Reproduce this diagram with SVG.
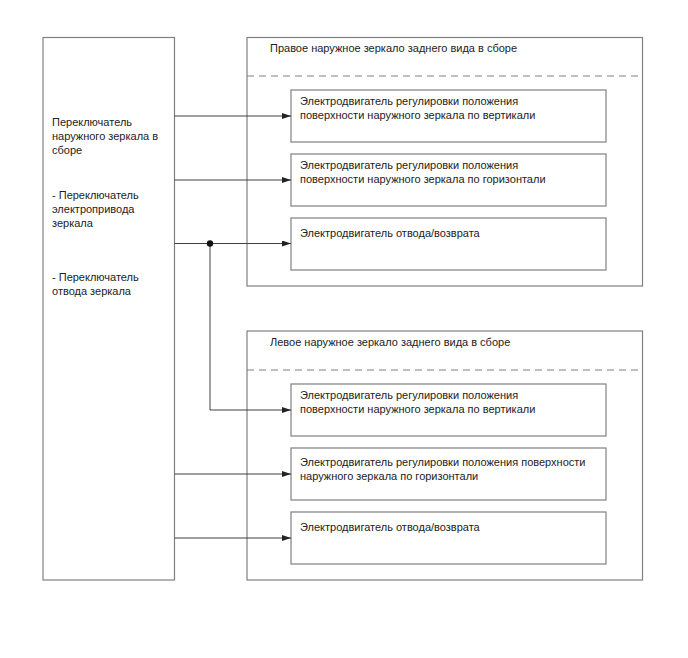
<svg xmlns="http://www.w3.org/2000/svg" width="688" height="658" viewBox="0 0 688 658">
<style>
.box{fill:#fff;stroke:#808080;stroke-width:1.2}
.dash{stroke:#808080;stroke-width:1.2;stroke-dasharray:7,5;fill:none}
.con{stroke:#404040;stroke-width:1;fill:none}
text{font-family:"Liberation Sans",Arial,sans-serif;font-size:11px;fill:#222}
</style>
<defs>
<marker id="arr" markerWidth="9" markerHeight="6" refX="9" refY="3" orient="auto" markerUnits="userSpaceOnUse">
<path d="M0,0 L9,3 L0,6 Z" fill="#222"/>
</marker>
</defs>
<rect width="688" height="658" fill="#fff"/>
<g id="switch">
<rect class="box" x="43" y="37.5" width="131.5" height="542.5"/>
<text x="52" y="126">Переключатель</text>
<text x="52" y="140">наружного зеркала в</text>
<text x="52" y="154">сборе</text>
<text x="52" y="199">- Переключатель</text>
<text x="52" y="213">электропривода</text>
<text x="52" y="227">зеркала</text>
<text x="52" y="281">- Переключатель</text>
<text x="52" y="295">отвода зеркала</text>
</g>
<g id="right-mirror">
<rect class="box" x="247" y="37.5" width="395.5" height="248.5"/>
<text x="270" y="52">Правое наружное зеркало заднего вида в сборе</text>
<line class="dash" x1="247" y1="76" x2="642.5" y2="76"/>
</g>
<g id="r-vert">
<rect class="box" x="291" y="90" width="315" height="52"/>
<text x="300" y="105">Электродвигатель регулировки положения</text>
<text x="300" y="119">поверхности наружного зеркала по вертикали</text>
</g>
<g id="r-horiz">
<rect class="box" x="291" y="154" width="315" height="52"/>
<text x="300" y="169">Электродвигатель регулировки положения</text>
<text x="300" y="183">поверхности наружного зеркала по горизонтали</text>
</g>
<g id="r-fold">
<rect class="box" x="291" y="218" width="315" height="52"/>
<text x="300" y="237">Электродвигатель отвода/возврата</text>
</g>
<g id="left-mirror">
<rect class="box" x="247" y="331" width="395.5" height="249"/>
<text x="270" y="346">Левое наружное зеркало заднего вида в сборе</text>
<line class="dash" x1="247" y1="370" x2="642.5" y2="370"/>
</g>
<g id="l-vert">
<rect class="box" x="291" y="384" width="315" height="52"/>
<text x="300" y="399">Электродвигатель регулировки положения</text>
<text x="300" y="413">поверхности наружного зеркала по вертикали</text>
</g>
<g id="l-horiz">
<rect class="box" x="291" y="448" width="315" height="52"/>
<text x="300" y="466">Электродвигатель регулировки положения поверхности</text>
<text x="300" y="480">наружного зеркала по горизонтали</text>
</g>
<g id="l-fold">
<rect class="box" x="291" y="512" width="315" height="52"/>
<text x="300" y="531">Электродвигатель отвода/возврата</text>
</g>
<g id="connectors">
<line class="con" x1="174.5" y1="116" x2="291" y2="116" marker-end="url(#arr)"/>
<line class="con" x1="174.5" y1="180" x2="291" y2="180" marker-end="url(#arr)"/>
<line class="con" x1="174.5" y1="243.5" x2="291" y2="243.5" marker-end="url(#arr)"/>
<polyline class="con" points="210,243.5 210,410 291,410" marker-end="url(#arr)"/>
<circle cx="210" cy="243.5" r="3.2" fill="#111"/>
<line class="con" x1="174.5" y1="474" x2="291" y2="474" marker-end="url(#arr)"/>
<line class="con" x1="174.5" y1="538" x2="291" y2="538" marker-end="url(#arr)"/>
</g>
</svg>
